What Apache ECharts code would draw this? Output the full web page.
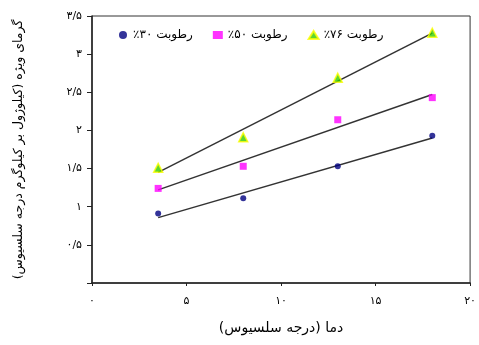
<!DOCTYPE html>
<html><head><meta charset="utf-8">
<script src="https://cdn.jsdelivr.net/npm/echarts@6/dist/echarts.min.js"></script>
<style>html,body{margin:0;padding:0;background:#fff}#c{width:479px;height:345px}</style>
</head><body><div id="c"></div>
<script>
const xValues = [3.5, 8, 13, 18];
const rh30 = [0.91, 1.11, 1.53, 1.93];
const rh50 = [1.24, 1.53, 2.14, 2.43];
const rh76 = [1.51, 1.91, 2.69, 3.28];
const seriesNames = ['\u200Fرطوبت ۳۰٪\u200F', '\u200Fرطوبت ۵۰٪\u200F', '\u200Fرطوبت ۷۶٪\u200F'];
const xAxisName = 'دما (درجه سلسیوس)';
const yAxisName = 'گرمای ویژه (کیلوژول بر کیلوگرم درجه سلسیوس)';

const fa = s => String(s).replace(/\./g, '/').replace(/[0-9]/g, d => '۰۱۲۳۴۵۶۷۸۹'[d]);
function fit(xs, ys) {
  const n = xs.length, mx = xs.reduce((a,b)=>a+b)/n, my = ys.reduce((a,b)=>a+b)/n;
  let sxy = 0, sxx = 0;
  for (let i = 0; i < n; i++) { sxy += (xs[i]-mx)*(ys[i]-my); sxx += (xs[i]-mx)**2; }
  const b = sxy/sxx, a = my - b*mx;
  const x0 = xs[0], x1 = xs[n-1];
  return [[x0, a+b*x0], [x1, a+b*x1]];
}
const pts = ys => xValues.map((x,i)=>[x, ys[i]]);
const font = "'DejaVu Sans', sans-serif";
const trend = ys => ({type:'line', data: fit(xValues, ys), symbol:'none', silent:true,
  lineStyle:{color:'#333', width:1.5}, z:1});
const chart = echarts.init(document.getElementById('c'), null, {renderer:'canvas'});
chart.setOption({
  animation:false,
  grid:{left:92, right:4, top:16, bottom:62, show:true, borderColor:'#333', borderWidth:1, containLabel:false},
  legend:{top:24, left:114, itemGap:20, itemWidth:10, itemHeight:8,
    textStyle:{fontFamily:font, fontSize:12, color:'#000'},
    data:seriesNames},
  xAxis:{type:'value', min:0, max:20, interval:5,
    name:xAxisName, nameLocation:'middle', nameGap:38,
    nameTextStyle:{fontFamily:font, fontSize:14, color:'#000'},
    axisLine:{lineStyle:{color:'#222', width:1.5}},
    axisTick:{show:true, length:3, lineStyle:{color:'#222'}},
    splitLine:{show:false},
    axisLabel:{fontFamily:font, fontSize:11, color:'#000', margin:13, formatter:v=>fa(v)}},
  yAxis:{type:'value', min:0, max:3.5, interval:0.5,
    name:yAxisName, nameLocation:'middle', nameGap:67,
    nameTextStyle:{fontFamily:font, fontSize:12.5, color:'#000'},
    axisLine:{show:true, lineStyle:{color:'#222', width:1.5}},
    axisTick:{show:true, length:5, lineStyle:{color:'#222'}},
    splitLine:{show:false},
    axisLabel:{fontFamily:font, fontSize:11, color:'#000', margin:10, formatter:v=> v===0 ? '' : fa(v)}},
  series:[
    {name:seriesNames[0], type:'scatter', data:pts(rh30), symbol:'circle', symbolSize:6,
      itemStyle:{color:'#000080'}, z:3},
    {name:seriesNames[1], type:'scatter', data:pts(rh50), symbol:'rect', symbolSize:7,
      itemStyle:{color:'#ff00ff'}, z:3},
    {name:seriesNames[2], type:'scatter', data:pts(rh76), symbol:'triangle', symbolSize:9,
      itemStyle:{color:'#33cc00', borderColor:'#ffff00', borderWidth:1.5}, z:3},
    trend(rh30), trend(rh50), trend(rh76)
  ]
});
</script></body></html>
